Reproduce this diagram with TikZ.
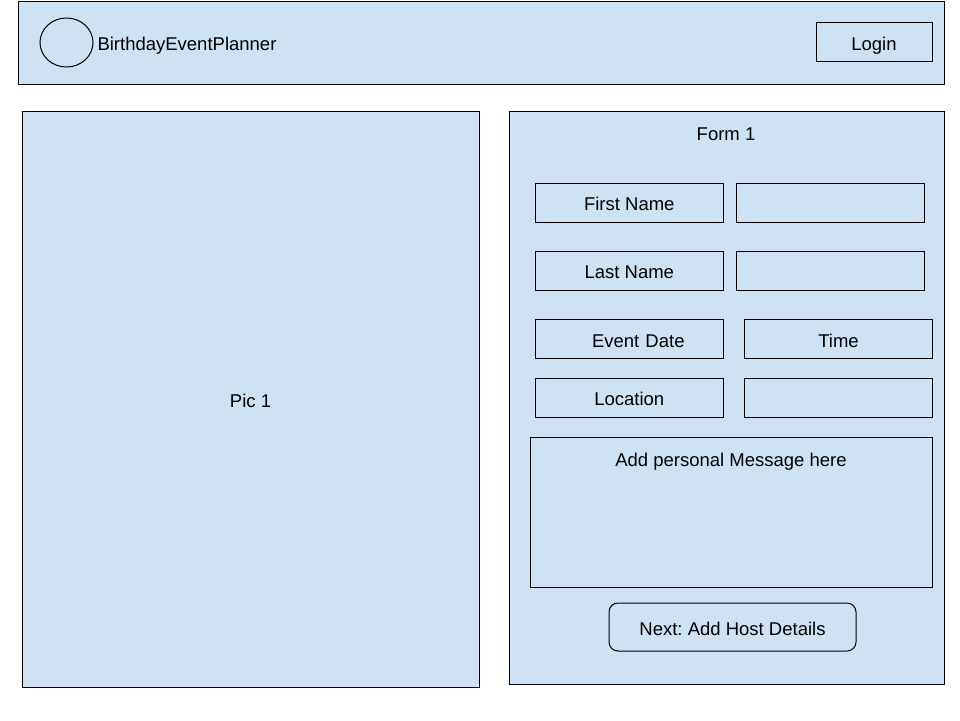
\documentclass[tikz,border=0pt]{standalone}
\usepackage{fontspec}
\setmainfont{Liberation Sans}
\usetikzlibrary{shapes.geometric}
\definecolor{panelblue}{HTML}{CFE2F3}
\frenchspacing
\begin{document}
\begin{tikzpicture}[x=1pt, y=-1pt, line width=1pt,
  panel/.style={draw=black,fill=panelblue,rectangle,inner sep=0pt},
  field/.style={panel,minimum width=188pt,minimum height=39pt},
  label text/.style={font=\fontsize{18.5}{22}\selectfont,text height=16pt,text depth=0pt}]%
\useasboundingbox (0,0) rectangle (960,720);
\begin{scope}[every node/.style={label text}]
% header
\node[panel,minimum width=926pt,minimum height=83pt] (header) at (481,42.5) {};
\node[draw=black,ellipse,minimum width=53pt,minimum height=49pt,inner sep=0pt] (logo) at (66.5,42.5) {};
\node[anchor=west,inner sep=0pt] (title) at (97,42.5) {BirthdayEventPlanner};
\node[panel,minimum width=116pt,minimum height=39pt] (login) at (874,42) {Login};
% picture panel
\node[panel,minimum width=457pt,minimum height=576pt] (pic) at (250.5,399) {Pic 1};
% form panel
\node[panel,minimum width=435pt,minimum height=573pt] (form) at (726.5,397.5) {};
\node (formtitle) at (726,132) {Form 1};
\node[field] (first) at (629.3,202.8) {First Name};
\node[field] (firstval) at (830.5,202.8) {};
\node[field] (last) at (629.3,270.8) {Last Name};
\node[field] (lastval) at (830.5,270.8) {};
\node[field,text width=188pt,align=center] (date) at (629.3,339.3) {\hspace*{18pt}Event Date};
\node[field] (time) at (838.5,339.3) {Time};
\node[field] (location) at (629.3,397.8) {Location};
\node[field] (locationval) at (838.5,397.8) {};
\node[panel,minimum width=402pt,minimum height=150pt] (message) at (731,512) {};
\node (messagetext) at (731,458) {Add personal Message here};
\node[panel,rounded corners=9pt,minimum width=247pt,minimum height=48pt] (next) at (732.5,627) {Next: Add Host Details};
\end{scope}
\end{tikzpicture}
\end{document}
